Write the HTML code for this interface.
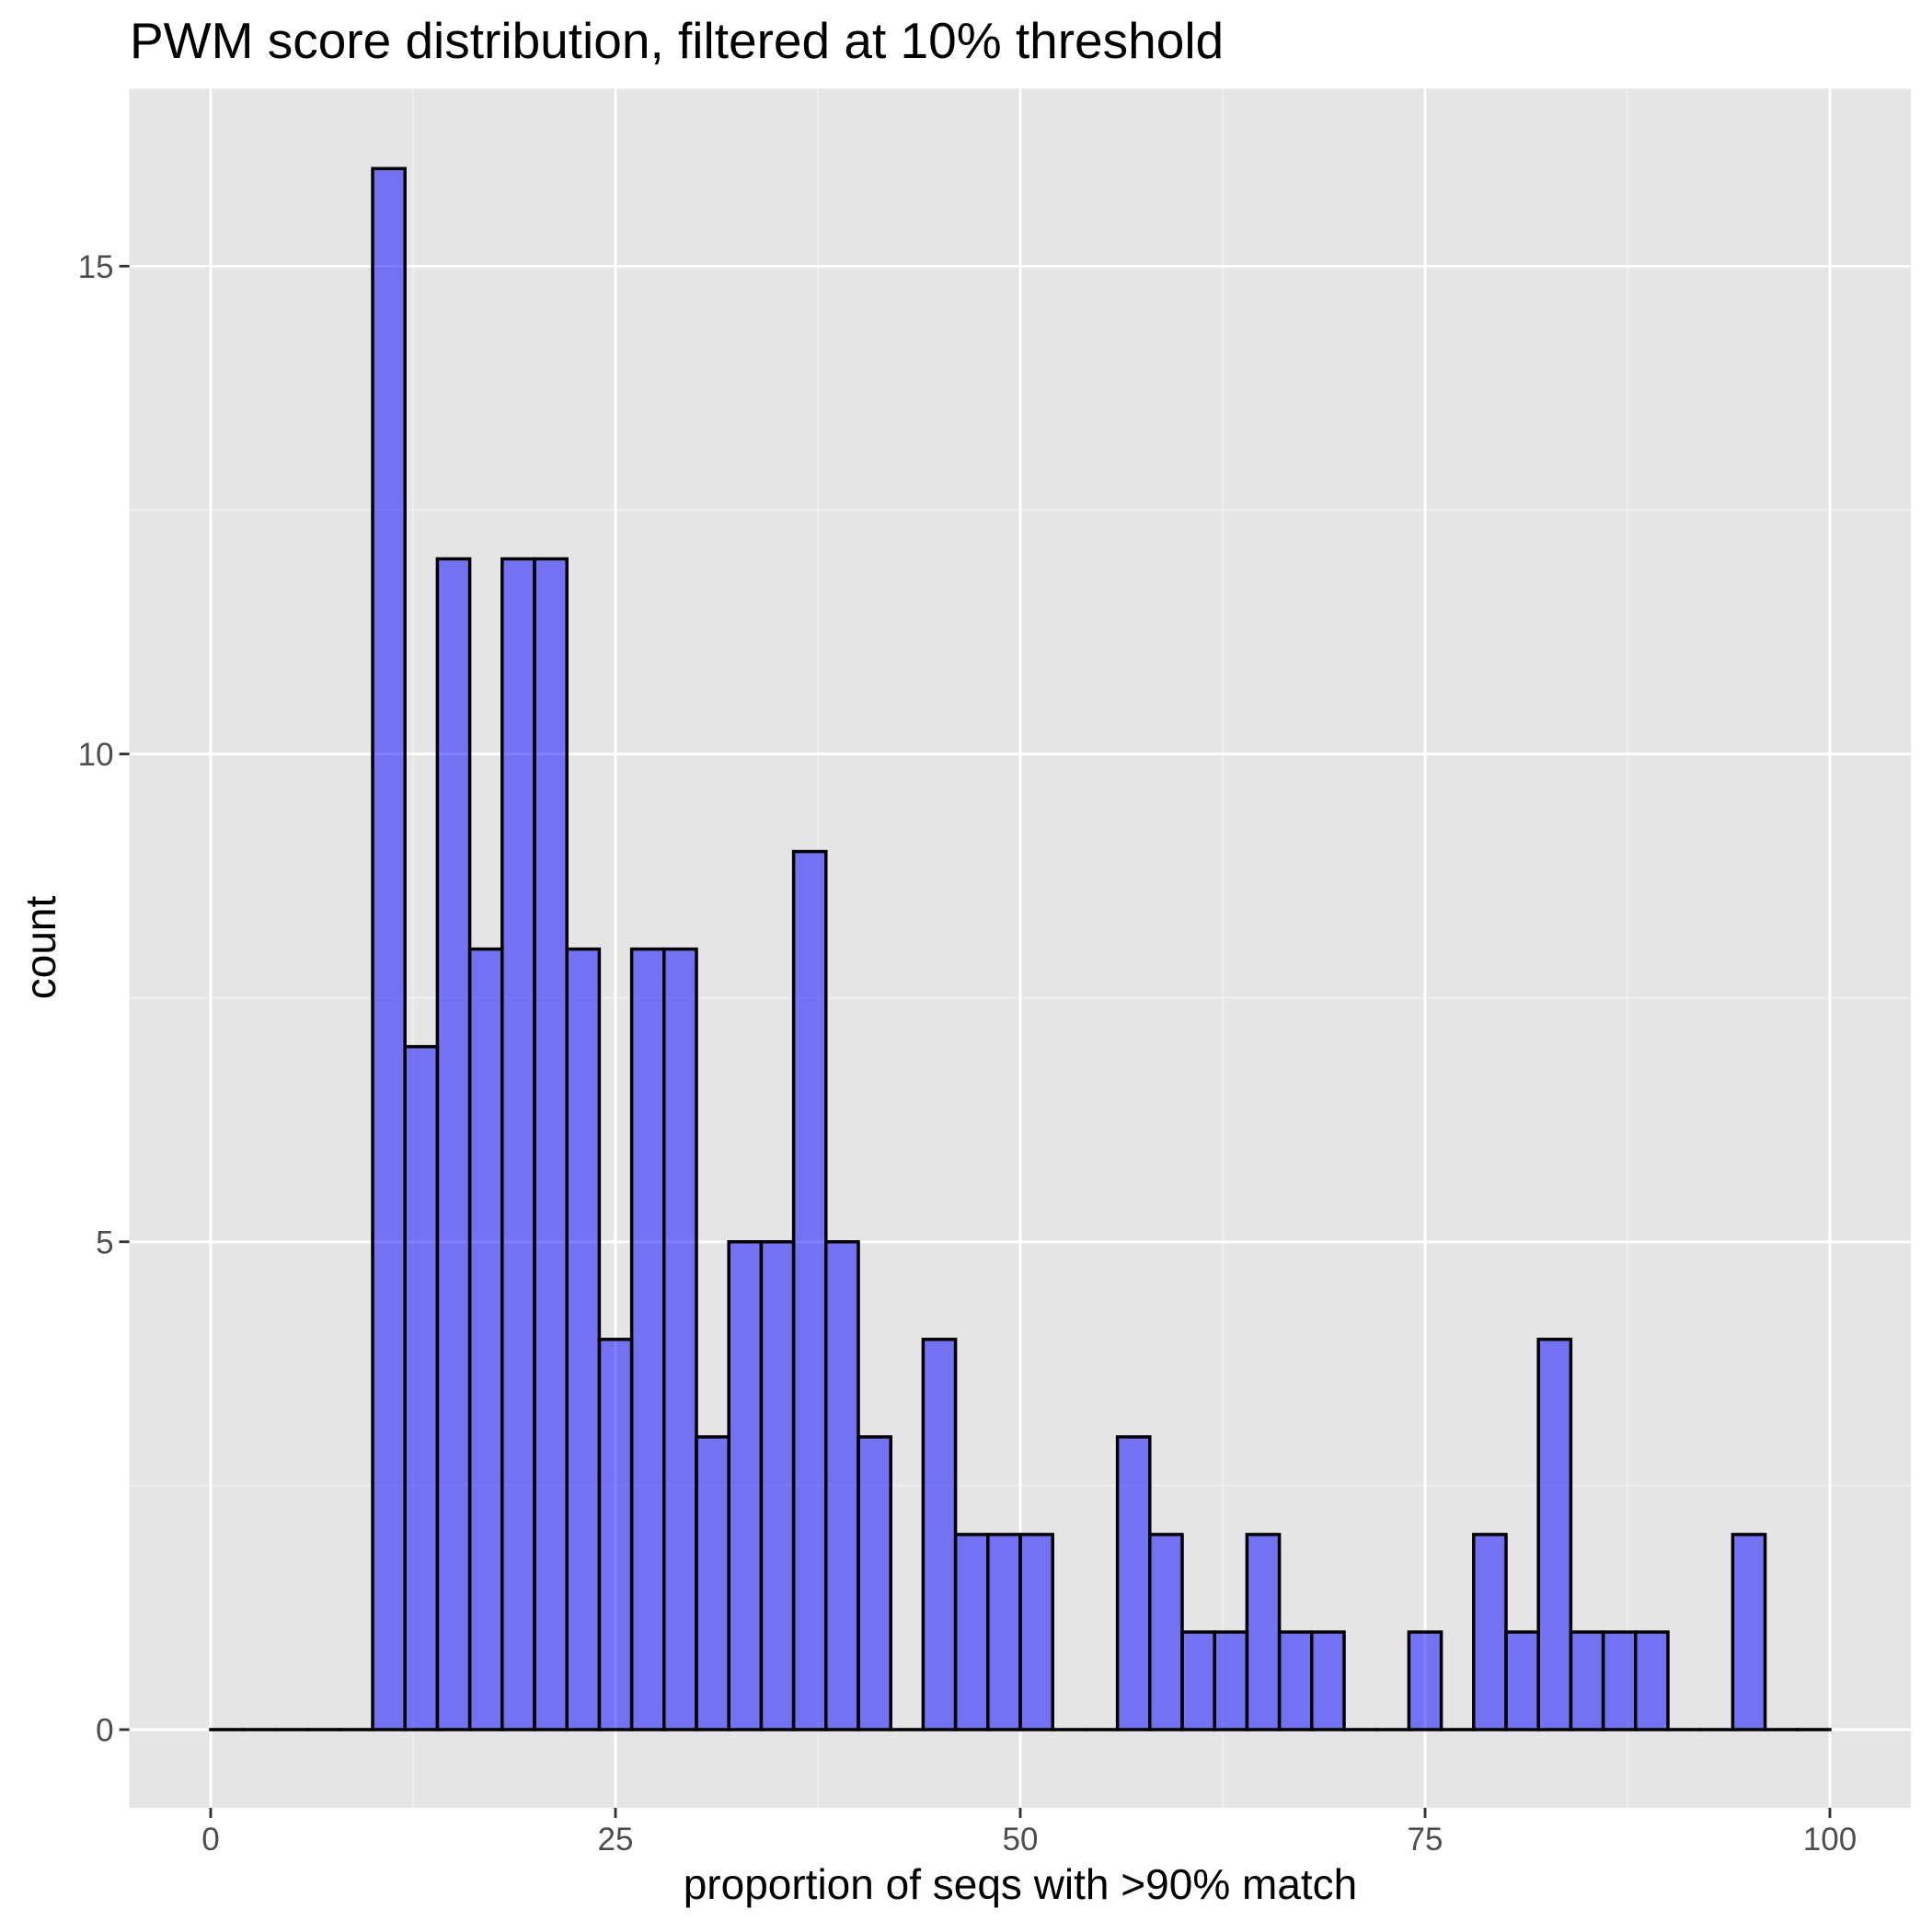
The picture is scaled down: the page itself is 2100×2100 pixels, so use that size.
<!DOCTYPE html>
<html><head><meta charset="utf-8"><style>
html,body{margin:0;padding:0;background:#fff}
svg{display:block;font-family:"Liberation Sans",Arial,sans-serif}
</style></head><body>
<svg id="chart" width="2100" height="2100" viewBox="0 0 2100 2100" xmlns="http://www.w3.org/2000/svg">
<rect x="0" y="0" width="2100" height="2100" fill="#fff"/>
<text x="141" y="63" font-size="55" fill="#000">PWM score distribution, filtered at 10% threshold</text>
<rect x="140.6" y="96.4" width="1936.4" height="1868.6" fill="#e5e5e5"/>
<g id="grid"></g>
<g id="bars"></g>
<g id="axes"></g>
<text x="1109" y="2064" font-size="46" text-anchor="middle" fill="#000">proportion of seqs with &gt;90% match</text>
<text x="60" y="1030" font-size="46" text-anchor="middle" fill="#000" transform="rotate(-90 60 1030)">count</text>
</svg>
<script>
const binStarts = [0,2,4,6,8,10,12,14,16,18,20,22,24,26,28,30,32,34,36,38,40,42,44,46,48,50,52,54,56,58,60,62,64,66,68,70,72,74,76,78,80,82,84,86,88,90,92,94,96,98];
const counts = [0,0,0,0,0,16,7,12,8,12,12,8,4,8,8,3,5,5,9,5,3,0,4,2,2,2,0,0,3,2,1,1,2,1,1,0,0,1,0,2,1,4,1,1,1,0,0,2,0,0];
const binWidth = 2;
const xTicks = [0,25,50,75,100];
const yTicks = [0,5,10,15];
const xMinor = [12.5,37.5,62.5,87.5];
const yMinor = [2.5,7.5,12.5];

const NS = "http://www.w3.org/2000/svg";
const PL = 140.6, PR = 2077, PT = 96.4, PB = 1965;
const X0 = 229, X100 = 1989, Y0 = 1880, Y15 = 289.3;
function sx(v){ return X0 + (X100 - X0) * v / 100; }
function sy(v){ return Y0 + (Y15 - Y0) * v / 15; }
function mk(tag, attrs, parent){
  const e = document.createElementNS(NS, tag);
  for (const k in attrs) e.setAttribute(k, attrs[k]);
  parent.appendChild(e);
  return e;
}
const grid = document.getElementById('grid');
xMinor.forEach(v => {
  const l = mk('line', {x1:sx(v), x2:sx(v), y1:PT, y2:PB, stroke:'#f2f2f2', 'stroke-width':1.5}, grid);
  
  
});
yMinor.forEach(v => {
  const l = mk('line', {x1:PL, x2:PR, y1:sy(v), y2:sy(v), stroke:'#f2f2f2', 'stroke-width':1.5}, grid);
  
  
});
xTicks.forEach(v => {
  const l = mk('line', {x1:sx(v), x2:sx(v), y1:PT, y2:PB, stroke:'#fff', 'stroke-width':2.9}, grid);
  
  
});
yTicks.forEach(v => {
  const l = mk('line', {x1:PL, x2:PR, y1:sy(v), y2:sy(v), stroke:'#fff', 'stroke-width':2.9}, grid);
  
  
});
const bars = document.getElementById('bars');
binStarts.forEach((b, i) => {
  const x1 = sx(b), x2 = sx(b + binWidth), yt = sy(counts[i]), yb = sy(0);
  if (counts[i] > 0) {
    const r = mk('rect', {x:x1, y:yt, width:x2 - x1, height:yb - yt, fill:'rgba(0,0,255,0.5)', stroke:'#000', 'stroke-width':3.5}, bars);
    
    
  } else {
    const l = mk('line', {x1:x1, x2:x2, y1:yb, y2:yb, stroke:'#000', 'stroke-width':3.5, 'stroke-linecap':'square'}, bars);
    
    
  }
});
const axes = document.getElementById('axes');
xTicks.forEach(v => {
  const t = mk('line', {x1:sx(v), x2:sx(v), y1:PB, y2:PB + 11, stroke:'#333', 'stroke-width':2.9}, axes);
  
  
  const tx = mk('text', {x:sx(v), y:2011, 'font-size':35, 'text-anchor':'middle', fill:'#4d4d4d'}, axes);
  tx.textContent = v;
  
  
});
yTicks.forEach(v => {
  const t = mk('line', {x1:PL - 11, x2:PL, y1:sy(v), y2:sy(v), stroke:'#333', 'stroke-width':2.9}, axes);
  
  
  const tx = mk('text', {x:PL - 17, y:sy(v) + 12.5, 'font-size':35, 'text-anchor':'end', fill:'#4d4d4d'}, axes);
  tx.textContent = v;
  
  
});
</script>
</body></html>
